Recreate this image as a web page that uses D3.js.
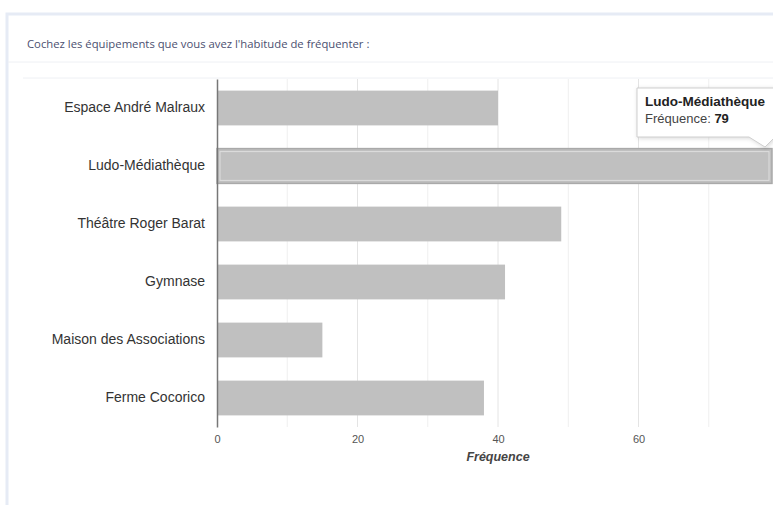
<!DOCTYPE html>
<html>
<head>
<meta charset="utf-8">
<script src="https://cdn.jsdelivr.net/npm/d3@7"></script>
<style>
  body { margin: 0; background: #fff; }
  svg { display: block; }
</style>
</head>
<body>
<div id="plot"></div>
<script>
// data
const categories = ["Espace André Malraux", "Ludo-Médiathèque", "Théâtre Roger Barat",
  "Gymnase", "Maison des Associations", "Ferme Cocorico"];
const frequences = [40, 79, 49, 41, 15, 38];
const tickValues = [0, 20, 40, 60];
const gridValues = [10, 20, 30, 40, 50, 60, 70];
const highlighted = "Ludo-Médiathèque";

const width = 773, height = 505;
const plotLeft = 217, plotRight = 772, plotTop = 79, plotBottom = 427;

const svg = d3.select("div#plot")
  .append("svg")
    .attr("width", width)
    .attr("height", height);

// card
svg.append("rect")
  .attr("x", 7).attr("y", 14)
  .attr("width", width).attr("height", height)
  .attr("fill", "#fff")
  .attr("stroke", "#e6ebf5")
  .attr("stroke-width", 3);

svg.append("text")
  .attr("x", 27).attr("y", 48)
  .style("font-family", "'Open Sans', sans-serif")
  .style("font-size", "11.3px")
  .style("fill", "#4b5070")
  .text("Cochez les équipements que vous avez l'habitude de fréquenter :");

svg.append("line")
  .attr("x1", 8).attr("x2", width)
  .attr("y1", 62).attr("y2", 62)
  .attr("stroke", "#eef0f4");

svg.append("line")
  .attr("x1", 23).attr("x2", width)
  .attr("y1", 78).attr("y2", 78)
  .attr("stroke", "#eef0f4");

const x = d3.scaleLinear()
  .domain([0, d3.max(frequences)])
  .range([plotLeft, plotRight]);

const y = d3.scaleBand()
  .domain(categories)
  .range([plotTop, plotBottom])
  .paddingInner(0.4)
  .paddingOuter(0.2);

// gridlines
svg.selectAll(".grid")
  .data(gridValues)
  .join("line")
    .attr("class", "grid")
    .attr("x1", d => x(d)).attr("x2", d => x(d))
    .attr("y1", plotTop).attr("y2", plotBottom)
    .attr("stroke", d => d % 20 === 0 ? "#e4e4e4" : "#efefef")
    .attr("stroke-width", 1);

// bars
const rows = categories.map((c, i) => ({ name: c, value: frequences[i] }));

svg.selectAll(".bar")
  .data(rows)
  .join("rect")
    .attr("class", "bar")
    .attr("x", x(0))
    .attr("y", d => y(d.name))
    .attr("width", d => x(d.value) - x(0))
    .attr("height", y.bandwidth())
    .attr("fill", "#c0c0c0")
    .attr("stroke", d => d.name === highlighted ? "#a9a9a9" : "none")
    .attr("stroke-width", 1.5);

// inner light border on the hovered bar
const hov = rows.find(d => d.name === highlighted);
svg.append("rect")
  .attr("x", x(0) + 3)
  .attr("y", y(hov.name) + 3)
  .attr("width", x(hov.value) - x(0) - 6)
  .attr("height", y.bandwidth() - 6)
  .attr("fill", "none")
  .attr("stroke", "#dedede")
  .attr("stroke-width", 1);

// y axis
const yAxis = svg.append("g")
  .attr("transform", `translate(${plotLeft},0)`)
  .call(d3.axisLeft(y).tickSize(0).tickPadding(12));
yAxis.select(".domain").attr("stroke", "#777").attr("stroke-width", 1.5);
yAxis.selectAll("text")
  .style("font-family", "'Liberation Sans', Arial, sans-serif")
  .style("font-size", "14px")
  .style("fill", "#333");

// x axis
const xAxis = svg.append("g")
  .attr("transform", `translate(0,${plotBottom})`)
  .call(d3.axisBottom(x).tickValues(tickValues).tickSize(0).tickPadding(8));
xAxis.select(".domain").remove();
xAxis.selectAll("text")
  .style("font-family", "'Liberation Sans', Arial, sans-serif")
  .style("font-size", "11px")
  .style("fill", "#555");

svg.append("text")
  .attr("x", x(40))
  .attr("y", 461)
  .attr("text-anchor", "middle")
  .style("font-family", "'Liberation Sans', Arial, sans-serif")
  .style("font-size", "12.5px")
  .style("font-style", "italic")
  .style("font-weight", "bold")
  .style("fill", "#444")
  .text("Fréquence");

// tooltip
const tip = svg.append("g").attr("transform", "translate(637,88)");
tip.append("path")
  .attr("d", "M0,0 H140 V49 H138 L128,59 L112,49 H0 Z")
  .attr("fill", "#fff")
  .attr("stroke", "#cfcfcf")
  .attr("stroke-width", 1)
  .style("filter", "drop-shadow(1px 1px 2px rgba(0,0,0,0.15))");
tip.append("text")
  .attr("x", 8).attr("y", 18)
  .style("font-family", "'Liberation Sans', Arial, sans-serif")
  .style("font-size", "13.5px")
  .style("font-weight", "bold")
  .style("fill", "#222")
  .text(hov.name);
const t2 = tip.append("text")
  .attr("x", 8).attr("y", 35)
  .style("font-family", "'Liberation Sans', Arial, sans-serif")
  .style("font-size", "13px")
  .style("fill", "#444");
t2.append("tspan").text("Fréquence: ");
t2.append("tspan").style("font-weight", "bold").style("fill", "#222").text(hov.value);
</script>
</body>
</html>
